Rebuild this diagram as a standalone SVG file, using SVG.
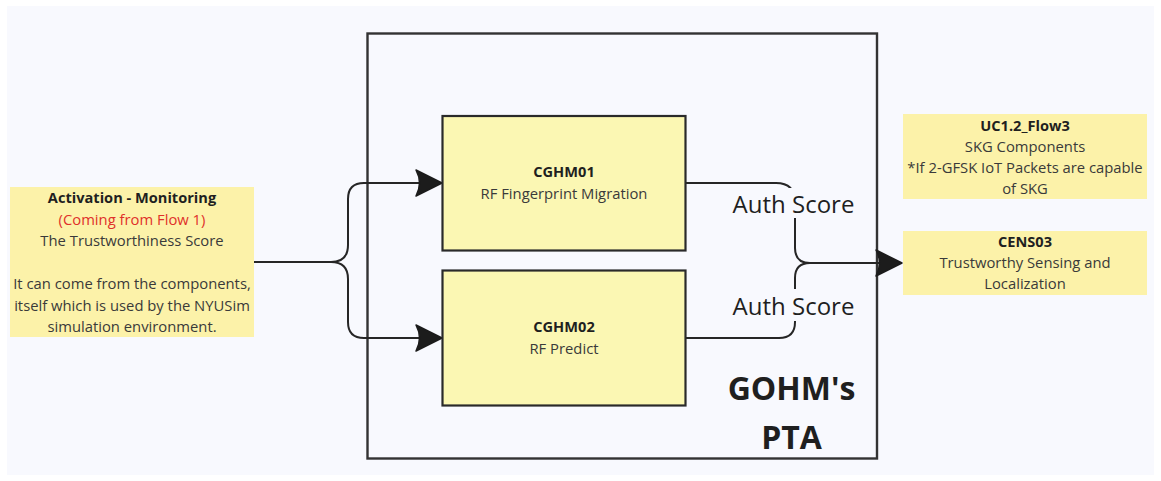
<svg xmlns="http://www.w3.org/2000/svg" width="1161" height="481" viewBox="0 0 1161 481">
  <defs>
    <marker id="arrow" viewBox="-28 -15 30 30" refX="0" refY="0" markerWidth="30" markerHeight="30" markerUnits="userSpaceOnUse" orient="auto">
      <path d="M0,0 L-26,-13 Q-19,0 -26,13 Z" fill="#1c1c1c" stroke="#1c1c1c" stroke-width="1.5" stroke-linejoin="round"/>
    </marker>
    <style>
      text { font-family: "Open Sans", "Noto Sans", "Liberation Sans", sans-serif; text-anchor: middle; }
      .note { fill: #fcf2a9; }
      .box { fill: #fbf7b3; stroke: #2a2a2a; stroke-width: 2.2; }
      .frame { fill: none; stroke: #333333; stroke-width: 2.4; }
      .title { font-size: 14.6px; font-weight: 700; fill: #1f1f1f; }
      .body { font-size: 14.8px; fill: #3a3a3a; }
      .red { font-size: 14.8px; fill: #e0302a; }
      .edge { fill: none; stroke: #262626; stroke-width: 2; }
      .label { font-size: 24px; fill: #1f1f1f; }
      .mask { fill: #f8f9fe; }
      .big { font-size: 32px; font-weight: 700; fill: #1f1f1f; }
    </style>
  </defs>

  <!-- canvas -->
  <rect x="0" y="0" width="1161" height="481" fill="#ffffff"/>
  <rect x="7" y="6" width="1147" height="469" fill="#f8f9fe"/>

  <!-- container frame -->
  <g id="gohm-pta">
    <rect class="frame" x="367.5" y="33.5" width="509.5" height="425"/>
    <text class="big" x="791.5" y="399.5">GOHM's</text>
    <text class="big" x="791.5" y="448.5">PTA</text>
  </g>

  <!-- connectors -->
  <g id="connectors">
    <path class="edge" d="M254,262 H331 Q348,262 348,245 V199 Q348,183 364,183 H442" marker-end="url(#arrow)"/>
    <path class="edge" d="M331,262 Q348,262 348,279 V322 Q348,338 364,338 H442" marker-end="url(#arrow)"/>
    <path class="edge" d="M685,183 H776 Q795,183 795,202 V248 Q795,263 810,263 H902" marker-end="url(#arrow)"/>
    <path class="edge" d="M685,338 H779 Q795,338 795,322 V278 Q795,263 810,263"/>
    <rect class="mask" x="726" y="188" width="136" height="30"/>
    <text class="label" x="793.5" y="212.5">Auth Score</text>
    <rect class="mask" x="726" y="289" width="136" height="32"/>
    <text class="label" x="793.5" y="315">Auth Score</text>
  </g>

  <!-- input note -->
  <g id="activation-monitoring">
    <rect class="note" x="10" y="187" width="244" height="150"/>
    <text class="title" x="132" y="203">Activation - Monitoring</text>
    <text class="red" x="132" y="224.5">(Coming from Flow 1)</text>
    <text class="body" x="132" y="246">The Trustworthiness Score</text>
    <text class="body" x="132" y="289">It can come from the components,</text>
    <text class="body" x="132" y="310.5">itself which is used by the NYUSim</text>
    <text class="body" x="132" y="332">simulation environment.</text>
  </g>

  <!-- components -->
  <g id="cghm01">
    <rect class="box" x="442.5" y="116" width="243" height="134.5"/>
    <text class="title" x="564" y="177">CGHM01</text>
    <text class="body" x="564" y="198.5">RF Fingerprint Migration</text>
  </g>
  <g id="cghm02">
    <rect class="box" x="442.5" y="270.5" width="243" height="135"/>
    <text class="title" x="564" y="331.5">CGHM02</text>
    <text class="body" x="564" y="353.5">RF Predict</text>
  </g>

  <!-- output notes -->
  <g id="uc12-flow3">
    <rect class="note" x="903" y="114" width="244" height="85"/>
    <text class="title" x="1025" y="131">UC1.2_Flow3</text>
    <text class="body" x="1025" y="152">SKG Components</text>
    <text class="body" x="1025" y="173">*If 2-GFSK IoT Packets are capable</text>
    <text class="body" x="1025" y="194">of SKG</text>
  </g>
  <g id="cens03">
    <rect class="note" x="903" y="231" width="244" height="64"/>
    <text class="title" x="1025" y="246.5">CENS03</text>
    <text class="body" x="1025" y="268">Trustworthy Sensing and</text>
    <text class="body" x="1025" y="289">Localization</text>
  </g>
</svg>
